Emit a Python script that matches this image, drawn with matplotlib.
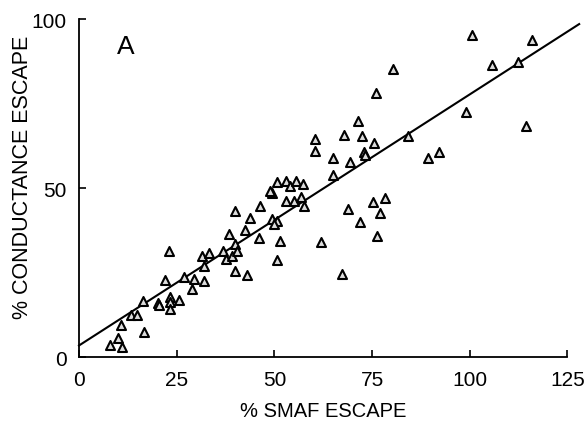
# Scatter of SMAF escape vs conductance escape, panel A
import numpy as np
import matplotlib.pyplot as plt

smaf = [8.0, 9.9, 10.9, 10.8, 16.7, 13.3, 14.8, 16.5, 20.1, 22.0, 23.0,
        23.2, 23.2, 23.2, 25.5, 27.0, 28.8, 29.4, 32.1, 32.1, 31.5, 33.2,
        36.8, 37.7, 39.8, 39.2, 40.4, 38.5, 39.8, 39.8, 42.9, 42.6, 43.8,
        46.0, 46.4, 49.5, 49.4, 50.8, 49.8, 51.5, 50.8, 50.8, 52.9, 54.0,
        55.5, 57.4, 52.9, 55.0, 56.7, 57.6, 62.0, 60.4, 60.3, 65.1, 65.1,
        67.8, 69.3, 71.4, 72.5, 72.9, 75.4, 76.0, 80.3, 67.2, 68.9, 72.0,
        75.2, 77.1, 76.3, 78.4, 84.1, 89.4, 92.1, 99.0, 100.6, 105.7,
        112.3, 116.0, 114.4, 20.6, 49.0, 73.3]
cond = [3.6, 5.5, 3.0, 9.5, 7.3, 12.4, 12.4, 16.7, 15.9, 22.9, 31.4,
        17.7, 16.4, 14.2, 17.0, 23.6, 20.1, 23.1, 22.6, 27.0, 30.0, 30.7,
        31.4, 29.0, 33.4, 29.8, 31.4, 36.4, 25.5, 43.1, 24.3, 37.7, 41.0,
        35.1, 44.6, 48.4, 40.8, 40.3, 39.3, 34.2, 28.8, 51.7, 52.0, 50.5,
        52.2, 51.2, 46.1, 46.2, 47.4, 44.8, 34.1, 64.5, 60.9, 58.8, 53.9,
        65.8, 57.6, 69.9, 65.5, 60.6, 63.2, 78.1, 85.2, 24.6, 43.8, 40.0,
        45.9, 42.6, 35.7, 47.0, 65.3, 58.8, 60.8, 72.6, 95.4, 86.5,
        87.2, 93.8, 68.4, 15.5, 49.0, 59.8]

fit_x = [0, 128]
fit_y = [3.4, 98.5]

x_ticks = [0, 25, 50, 75, 100, 125]
y_ticks = [0, 50, 100]

plt.rcParams['font.family'] = ['Liberation Sans', 'DejaVu Sans']

fig = plt.figure(figsize=(5.85, 4.35), dpi=100)
ax = fig.add_axes([0.135, 0.177, 0.835, 0.777])

ax.plot(fit_x, fit_y, color='black', linewidth=1.5, clip_on=False, zorder=2)
ax.scatter(smaf, cond, marker='^', s=42, facecolor='#dcdcdc',
           edgecolor='black', linewidth=1.5, zorder=3, clip_on=False)

ax.set_xlim(0, 125)
ax.set_ylim(0, 100)
ax.set_xticks(x_ticks)
ax.set_yticks(y_ticks)
ax.tick_params(direction='in', length=5, width=1.2, labelsize=15, pad=9)

for s in ['top', 'right']:
    ax.spines[s].set_visible(False)
for s in ['left', 'bottom']:
    ax.spines[s].set_linewidth(1.3)

ax.set_xlabel('% SMAF ESCAPE', fontsize=14.5, labelpad=9)
ax.set_ylabel('% CONDUCTANCE ESCAPE', fontsize=15.5)
ax.yaxis.set_label_coords(-0.095, 0.535)
ax.text(12, 92, 'A', fontsize=19, ha='center', va='center')

plt.savefig('out.png', dpi=100)
